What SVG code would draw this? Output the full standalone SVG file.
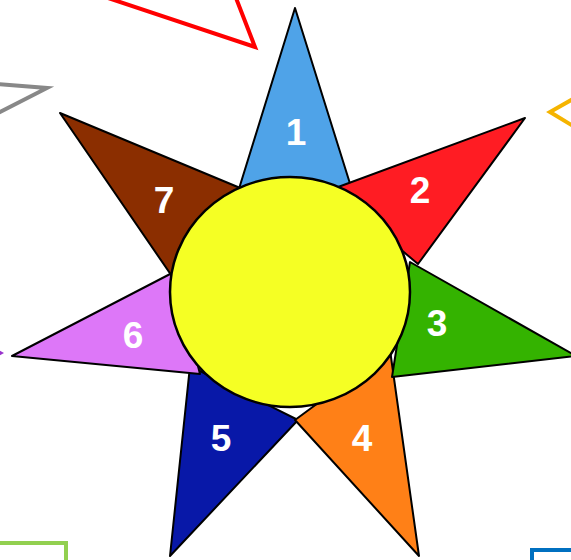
<svg xmlns="http://www.w3.org/2000/svg" width="571" height="560" viewBox="0 0 571 560">
<style>
.ray{stroke:#000;stroke-width:2;stroke-linejoin:round}
.lbl{font-family:"Liberation Sans",Arial,sans-serif;font-weight:bold;font-size:37px;fill:#fff;text-anchor:middle}
.out{fill:none;stroke-width:4;stroke-linejoin:miter}
</style>
<rect width="571" height="560" fill="#fff"/>
<g id="partials">
<polyline class="out" points="108,-2 255,47 236,-2" stroke="#FF0000"/>
<polyline class="out" points="-2,84 47,88 -2,113" stroke="#888888"/>
<polyline class="out" points="573,99 550,112 573,126" stroke="#F5B400"/>
<polygon points="-3,349 4,353 -3,357" fill="#9933CC"/>
<polyline class="out" points="-2,543 66,543 66,562" stroke="#92D050"/>
<polyline class="out" points="532,562 532,550 573,550" stroke="#0070C0"/>
</g>
<g id="ray7"><polygon class="ray" points="60,113 245,190 178,285" fill="#8B2E00"/><text class="lbl" x="164" y="213">7</text></g>
<g id="ray5"><polygon class="ray" points="170,556 190,366 298,420" fill="#0818A8"/><text class="lbl" x="221" y="451">5</text></g>
<g id="ray6"><polygon class="ray" points="12,356 174,272 200,374" fill="#DD77F8"/><text class="lbl" x="133" y="348">6</text></g>
<g id="ray4"><polygon class="ray" points="419,556 295,420 390,350" fill="#FF8017"/><text class="lbl" x="362" y="451">4</text></g>
<g id="ray3"><polygon class="ray" points="576,356 410,262 392,377" fill="#34B300"/><text class="lbl" x="437" y="336">3</text></g>
<g id="ray1"><polygon class="ray" points="295,8 238,192 352,190" fill="#4FA3E8"/><text class="lbl" x="296" y="145">1</text></g>
<g id="ray2"><polygon class="ray" points="525,118 330,190 418,264" fill="#FF1C23"/><text class="lbl" x="420" y="203">2</text></g>
<g id="sun"><ellipse cx="290" cy="292" rx="120" ry="115" fill="#F5FF24" stroke="#000" stroke-width="2.5"/></g>
<g id="connectors"></g>
</svg>
